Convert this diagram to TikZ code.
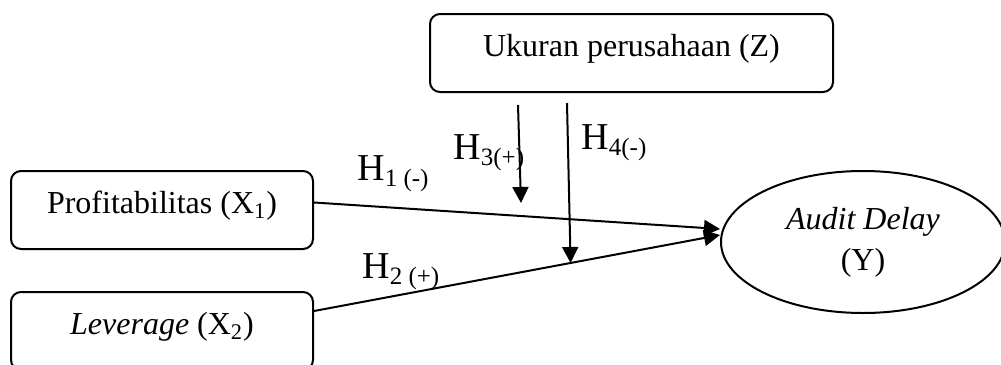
\documentclass[tikz,border=0pt]{standalone}
\usepackage{fontspec}
\setmainfont{Liberation Serif}
\usetikzlibrary{arrows.meta,shapes.geometric}

\tikzstyle{obj1}=[black, line width = 1pt, line join=round]

\newcommand{\hyp}[1]{H\raisebox{-3pt}{\fontsize{12.5}{14}\selectfont #1}}

\begin{document}
\begin{tikzpicture}[
	x=0.5pt, y=-0.5pt,
	var/.style={obj1, draw, rounded corners=5pt, inner sep=0pt, anchor=base, text height=21pt, text depth=18pt, font=\fontsize{16}{19}\selectfont},
	dep/.style={obj1, draw, ellipse, inner sep=0pt, align=center, minimum width=142pt, minimum height=71pt, font=\fontsize{16}{20.5}\selectfont},
	link/.style={obj1, -{Triangle[length=8pt,width=8pt]}},
	hlabel/.style={anchor=base west, inner sep=0pt, font=\fontsize{19}{22}\selectfont}
	]
	
	\useasboundingbox (0,0) rectangle (1001,364);
	
	% variables
	\node[var, minimum width=201.5pt] (Z) at (631.5,56) {Ukuran perusahaan (Z)};
	\node[var, minimum width=151pt] (X1) at (162,213) {Profitabilitas (X\textsubscript{1})};
	\node[var, minimum width=151pt] (X2) at (162,334) {\textit{Leverage} (X\textsubscript{2})};
	\node[dep] (Y) at (863,242) {\textit{Audit Delay}\\(Y)};
	
	% direct effects
	\draw[link] ([yshift=3.75pt]X1.east) -- ([yshift=6.5pt]Y.west);
	\draw[link] ([yshift=10pt]X2.east) -- coordinate[pos=0.632] (m4) ([yshift=3.5pt]Y.west);
	
	% moderation
	\coordinate (h3s) at (518,105);
	\coordinate (h3e) at (521,203);
	\coordinate (h4s) at (567,103);
	\draw[link] (h3s) -- (h3e);
	\draw[link] (h4s) -- (m4);
	
	\node[hlabel] (h1) at (357,180) {\hyp{1 (-)}};
	\node[hlabel] (h2) at (362,278) {\hyp{2 (+)}};
	\node[hlabel] (h3) at (453,159) {\hyp{3(+)}};
	\node[hlabel] (h4) at (581,149) {\hyp{4(-)}};
	
\end{tikzpicture}
\end{document}
